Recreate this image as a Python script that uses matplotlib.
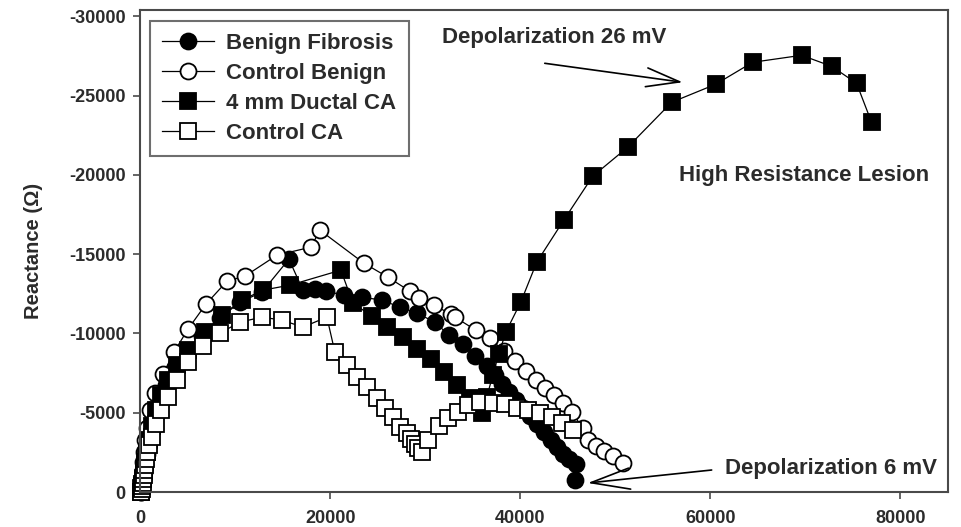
import matplotlib
matplotlib.use("Agg")
import matplotlib.pyplot as plt

plt.rcParams["font.family"] = ["Liberation Sans", "DejaVu Sans"]
plt.rcParams["font.weight"] = "bold"
plt.rcParams["axes.unicode_minus"] = False

textColor = "#2b2b2b"
axisColor = "#4a4a4a"

# resistance (x) / reactance (y) pairs, ohms
fibrosisX = [105, 105, 210, 315, 420, 525, 736, 946, 1262, 1577, 2103, 2733, 3680, 4836,
             6518, 8410, 10513, 12826, 15664, 17136, 18398, 19554, 21447, 23339, 25441,
             27334, 29121, 31013, 32485, 33957, 35219, 36480, 37321, 38057, 38793, 39529,
             40265, 41001, 41737, 42473, 43208, 43839, 44470, 45101, 45837, 45732]
fibrosisY = [0, -189, -441, -819, -1261, -1765, -2395, -3088, -3908, -4790, -5799, -6744,
             -7816, -8824, -9833, -10967, -11976, -12606, -14686, -12732, -12795, -12669,
             -12417, -12291, -12102, -11661, -11282, -10715, -9896, -9329, -8572, -7942,
             -7374, -6807, -6303, -5799, -5294, -4790, -4286, -3782, -3278, -2836, -2395,
             -2080, -1765, -756]

controlBenignX = [105, 105, 210, 210, 315, 315, 420, 525, 736, 1051, 1577, 2418, 3574, 5046,
                  6939, 9146, 11039, 14403, 17977, 18923, 23549, 26072, 28385, 29331, 30908,
                  32695, 33116, 35324, 36796, 38267, 39424, 40580, 41631, 42578, 43524, 44470,
                  45416, 46573, 47098, 47939, 48780, 49726, 50777]
controlBenignY = [0, -252, -567, -945, -1386, -1891, -2521, -3278, -4034, -5168, -6240, -7438,
                  -8824, -10274, -11850, -13299, -13614, -14938, -15442, -16514, -14434,
                  -13551, -12669, -12228, -11787, -11219, -11030, -10211, -9707, -8887, -8257,
                  -7627, -7059, -6555, -6114, -5610, -5042, -4034, -3278, -2899, -2584, -2269,
                  -1828]

ductalX = [105, 105, 210, 315, 420, 525, 736, 946, 1262, 1682, 2208, 2944, 3890, 5046, 6833,
           8621, 10723, 12931, 15770, 21131, 22393, 24390, 25967, 27649, 29121, 30593, 31959,
           33326, 34693, 35954, 36480, 37111, 37742, 38478, 40055, 41737, 44575, 47624,
           51303, 55929, 60555, 64445, 69596, 72750, 75378, 76955]
ductalY = [0, -252, -504, -882, -1324, -1891, -2521, -3278, -4160, -5168, -6114, -7059, -8005,
           -8950, -10085, -11156, -12102, -12732, -13047, -13993, -11913, -11093, -10400,
           -9770, -9013, -8383, -7564, -6744, -5925, -4979, -5988, -7374, -8698, -10085,
           -11976, -14497, -17144, -19917, -21745, -24582, -25716, -27103, -27544, -26851,
           -25779, -23321]

controlCAX = [105, 210, 210, 315, 315, 420, 420, 525, 631, 736, 946, 1262, 1682, 2208, 2944,
              3890, 5046, 6623, 8410, 10513, 12826, 14928, 17136, 19659, 20500, 21762, 22813,
              23864, 24916, 25757, 26598, 27334, 28070, 28490, 28911, 29226, 29647, 30278,
              31434, 32380, 33431, 34483, 35744, 37111, 38372, 39634, 40790, 42052, 43313,
              44365, 45521]
controlCAY = [0, -189, -378, -567, -819, -1072, -1387, -1702, -2080, -2521, -2962, -3467,
              -4286, -5168, -5988, -7059, -8194, -9202, -10022, -10715, -11030, -10841,
              -10400, -11030, -8824, -8005, -7248, -6618, -5925, -5294, -4727, -4097, -3719,
              -3341, -3025, -2773, -2521, -3278, -4160, -4664, -5042, -5484, -5673, -5610,
              -5547, -5294, -5168, -4979, -4727, -4349, -3908]

xTicks = [0, 20000, 40000, 60000, 80000]
yTicks = [0, -5000, -10000, -15000, -20000, -25000, -30000]

fig = plt.figure(figsize=(9.61, 5.27), dpi=100)
ax = fig.add_axes([0.1457, 0.0664, 0.8408, 0.9146])

lineStyle = dict(color="black", linewidth=0.9, markersize=11.5, markeredgewidth=1.3,
                 markeredgecolor="black", clip_on=False)

ax.plot(fibrosisX, fibrosisY, marker="o", markerfacecolor="black", label="Benign Fibrosis", **lineStyle)
ax.plot(controlBenignX, controlBenignY, marker="o", markerfacecolor="white", label="Control Benign", **lineStyle)
ax.plot(ductalX, ductalY, marker="s", markerfacecolor="black", label="4 mm Ductal CA", **lineStyle)
ax.plot(controlCAX, controlCAY, marker="s", markerfacecolor="white", label="Control CA", **lineStyle)

ax.set_xlim(0, 85000)
ax.set_ylim(0, -30400)
ax.set_xticks(xTicks)
ax.set_yticks(yTicks)
ax.set_xticklabels([str(t) for t in xTicks])
ax.set_yticklabels([str(t) for t in yTicks])

for side in ["left", "bottom", "top", "right"]:
    ax.spines[side].set_color(axisColor)
    ax.spines[side].set_linewidth(1.5)
ax.tick_params(axis="both", which="major", direction="out", length=5, width=1.2,
               color=axisColor, labelsize=13, labelcolor=textColor)
ax.tick_params(axis="x", pad=8)
ax.tick_params(axis="y", pad=5.5)

ax.set_ylabel("Reactance (Ω)", fontsize=14.5, fontweight="bold", color=textColor)
ax.yaxis.set_label_coords(-0.12, 0.5)

leg = ax.legend(loc="upper left", bbox_to_anchor=(0.012, 0.978), fontsize=16,
                frameon=True, fancybox=False, handlelength=2.35, handletextpad=0.55,
                labelspacing=0.4, borderpad=0.55, borderaxespad=0)
leg.get_frame().set_edgecolor(axisColor)
leg.get_frame().set_linewidth(1.5)
for t in leg.get_texts():
    t.set_color(textColor)

ax.text(31750, -28680, "Depolarization 26 mV", fontsize=16, color=textColor, va="center", ha="left")
ax.annotate("", xy=(57086, -25842), xytext=(42578, -27040),
            arrowprops=dict(arrowstyle="->,head_length=1.2,head_width=0.34", color="black",
                            lw=1.2, mutation_scale=20, shrinkA=0, shrinkB=0))

ax.text(56665, -19980, "High Resistance Lesion", fontsize=16, color=textColor, va="center", ha="left")

ax.text(61500, -1513, "Depolarization 6 mV", fontsize=16, color=textColor, va="center", ha="left")
ax.annotate("", xy=(47098, -567), xytext=(60134, -1387),
            arrowprops=dict(arrowstyle="->,head_length=1.4,head_width=0.38", color="black",
                            lw=1.2, mutation_scale=20, shrinkA=0, shrinkB=0),
            annotation_clip=False)

plt.savefig("out.png", dpi=100)
